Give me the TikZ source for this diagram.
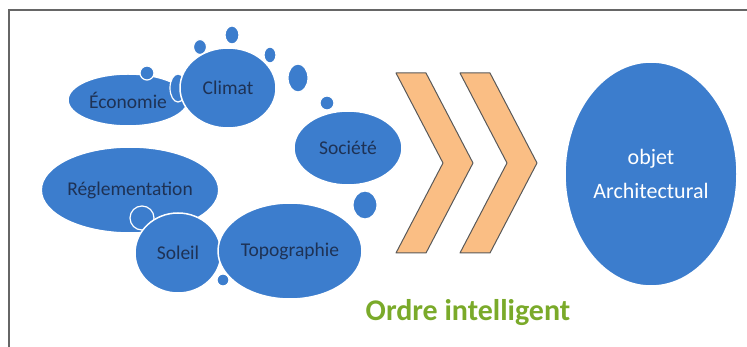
\documentclass[tikz,border=0pt]{standalone}
\usepackage{fontspec}
\setmainfont{Carlito}
\usetikzlibrary{shapes.geometric,positioning}
\definecolor{bulle}{RGB}{60,125,205}
\definecolor{encre}{RGB}{30,50,85}
\definecolor{chevron}{RGB}{250,190,132}
\definecolor{vert}{RGB}{122,170,42}
\tikzset{
  facteur/.style={ellipse,fill=bulle,draw=white,line width=1.5pt,inner sep=0pt,text=encre,font=\fontsize{19.5}{22}\selectfont},
  goutte/.style={fill=bulle,draw=white,line width=1.2pt},
  fleche/.style={fill=chevron,draw=black!65,line width=1pt,line join=round}
}
\begin{document}
\begin{tikzpicture}[x=1pt,y=-1pt]
      \useasboundingbox (0,0) rectangle (747,347);
      \draw[black!60,line width=1.2pt] (9,350) -- (9,10) -- (750,10);

      % bulles du haut
      \node[facteur,minimum width=120pt,minimum height=52pt] (eco) at (128,100) {Économie};
      \draw[goutte] (147,73) circle[radius=7];
      \draw[goutte] (178,88) ellipse[x radius=8,y radius=14];
      \foreach \x/\y/\rx/\ry in {200/47/6.5/7.5,232/35/7/9,270/55/6/8,298/78/10/14,327/103/7/7}
        \draw[goutte] (\x,\y) ellipse[x radius=\rx,y radius=\ry];
      \node[facteur,minimum width=96pt,minimum height=80pt] (climat) at (228,88) {Climat};

      \node[facteur,minimum width=108pt,minimum height=74pt] (societe) at (348,148) {Société};
      \draw[goutte] (365,205) ellipse[x radius=12,y radius=14];

      % bulles du bas
      \node[facteur,minimum width=176pt,minimum height=86pt] (regl) at (130,190) {Réglementation};
      \draw[goutte] (142,218) circle[radius=12];
      \draw[goutte] (223,280) circle[radius=6];
      \node[facteur,minimum width=86pt,minimum height=80pt] (soleil) at (178,253) {Soleil};
      \node[facteur,minimum width=144pt,minimum height=96pt] (topo) at (290,251) {Topographie};

      % chevrons
      \foreach \dx in {0,64}
        \draw[fleche,xshift=\dx] (396,73) -- (426,73) -- (473,163) -- (426,253) -- (396,253) -- (443,163) -- cycle;

      \node[facteur,text=white,align=center,font=\fontsize{22}{34}\selectfont,minimum width=172pt,minimum height=224pt] (objet) at (651,174) {objet\\Architectural};

      \node[anchor=base,text=vert,font=\bfseries\fontsize{30}{36}\selectfont] (ordre) at (468,320) {Ordre intelligent};
    \end{tikzpicture}
\end{document}
